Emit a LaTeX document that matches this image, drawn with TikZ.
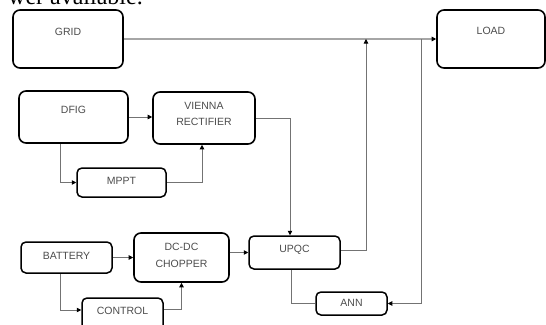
\documentclass[tikz,border=0pt]{standalone}
\usepackage{fontspec}
\setmainfont{Liberation Sans}
\newfontfamily\seriffont{Liberation Serif}
\usetikzlibrary{arrows.meta}
\begin{document}
\begin{tikzpicture}[x=1pt,y=-1pt,
  bigbox/.style={draw=black,line width=1.6pt,rounded corners=7pt,inner sep=0pt},
  smallbox/.style={draw=black,line width=1.5pt,rounded corners=5pt,inner sep=0pt},
  lbl/.style={font=\fontsize{10.5}{12.5}\selectfont,text=black!70,align=center,inner sep=0pt},
  conn/.style={draw=black!55,line width=0.8pt},
  arr/.style={conn,-{Triangle[length=4.5pt,width=4.5pt,color=black]}}]
\useasboundingbox (0,0) rectangle (546,324);
\begin{scope}
\clip (0,0) rectangle (546,324);
\node[anchor=base east,font=\seriffont\fontsize{24}{28}\selectfont,inner sep=0pt] (top) at (143,5) {wer available.};
% boxes
\node[bigbox,minimum width=110pt,minimum height=58pt] (grid) at (68,39) {};
\node[lbl] (gridt) at ([yshift=7pt]grid.center) {GRID};
\node[bigbox,minimum width=108pt,minimum height=58pt] (load) at (491,39) {};
\node[lbl] (loadt) at ([yshift=8pt]load.center) {LOAD};
\node[bigbox,minimum width=109pt,minimum height=52pt] (dfig) at (73.5,117) {};
\node[lbl] (dfigt) at ([yshift=7pt]dfig.center) {DFIG};
\node[bigbox,minimum width=102pt,minimum height=52pt] (vienna) at (204,118) {};
\node[lbl] (viennat) at ([yshift=4pt]vienna.center) {VIENNA\\[4pt]RECTIFIER};
\node[smallbox,minimum width=89pt,minimum height=29pt] (mppt) at (121.5,182.5) {};
\node[lbl] (mpptt) at ([yshift=1.5pt]mppt.center) {MPPT};
\node[smallbox,minimum width=91pt,minimum height=31pt] (battery) at (66.5,257.5) {};
\node[lbl] (batteryt) at ([yshift=1.5pt]battery.center) {BATTERY};
\node[bigbox,minimum width=95pt,minimum height=49pt] (dcdc) at (181.5,257.5) {};
\node[lbl] (dcdct) at ([yshift=2pt]dcdc.center) {DC-DC\\[4pt]CHOPPER};
\node[smallbox,minimum width=91pt,minimum height=33pt] (upqc) at (294.5,252.5) {};
\node[lbl] (upqct) at ([yshift=2.5pt]upqc.center) {UPQC};
\node[smallbox,minimum width=81pt,minimum height=34pt] (control) at (122.5,315) {};
\node[lbl] (controlt) at ([yshift=4pt]control.center) {CONTROL};
\node[smallbox,minimum width=71pt,minimum height=23pt] (ann) at (351.5,303.5) {};
\node[lbl] (annt) at ([yshift=0.5pt]ann.center) {ANN};
% junctions on the grid line
\coordinate (j1) at (366,39);
\coordinate (j2) at (421,39);
% connectors
\draw[arr,draw=black!35,line width=1.1pt] (grid.east) -- (load.west);
\draw[arr] ([yshift=2.5pt]upqc.east) -| (j1);
\draw[arr] (j2) |- (ann.east);
\draw[conn] ([xshift=-3.5pt]upqc.south) |- (ann.west);
\draw[arr] (vienna.east) -| ([xshift=-4.5pt]upqc.north);
\draw[arr] (dfig.east) -- (dfig.east -| vienna.west);
\draw[arr] ([xshift=-13.5pt]dfig.south) |- (mppt.west);
\draw[arr] (mppt.east) -| ([xshift=-2pt]vienna.south);
\draw[arr] (battery.east) -- (dcdc.west |- battery.east);
\draw[arr] (dcdc.east |- upqc.west) -- (upqc.west);
\draw[arr] ([xshift=-6.5pt]battery.south) |- ([yshift=5pt]control.west);
\draw[arr] ([yshift=6pt]control.east) -| (dcdc.south);
\end{scope}
\end{tikzpicture}
\end{document}
